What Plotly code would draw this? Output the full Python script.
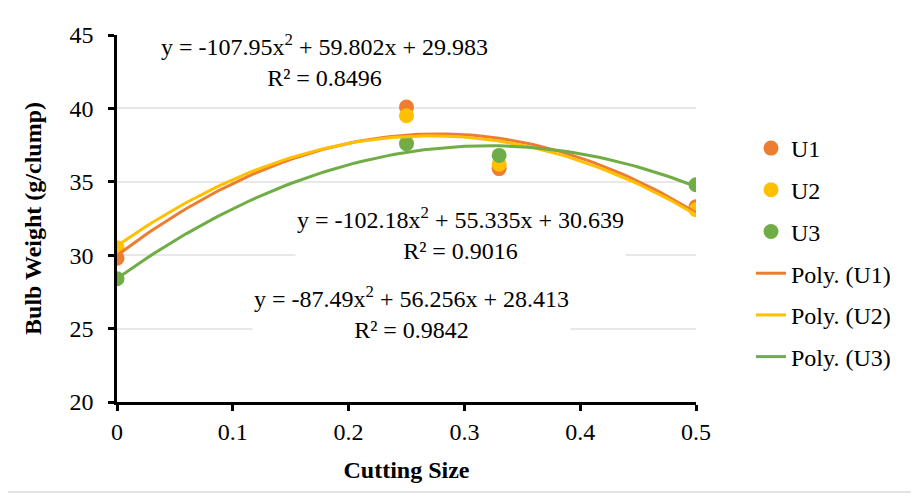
import numpy as np
import plotly.graph_objects as go

cutting_size = [0, 0.25, 0.33, 0.5]
u1 = [29.8, 40.1, 35.9, 33.3]
u2 = [30.5, 39.5, 36.2, 33.1]
u3 = [28.4, 37.6, 36.8, 34.8]

# printed trendline coefficients (a, b, c) for y = a x^2 + b x + c
coef_u1 = [-107.95, 59.802, 29.983]
coef_u2 = [-102.18, 55.335, 30.639]
coef_u3 = [-87.49, 56.256, 28.413]
r2 = [0.8496, 0.9016, 0.9842]

series_names = ["U1", "U2", "U3"]
colors = ["#ED7D31", "#FFC000", "#70AD47"]

FONT = "Liberation Serif, Times New Roman, serif"
FS = 24

fig = go.Figure()
for i, (name, vals) in enumerate(zip(series_names, [u1, u2, u3])):
    fig.add_trace(go.Scatter(
        x=cutting_size, y=vals, mode="markers", name=name,
        marker=dict(color=colors[i], size=15),
        legendgroup=f"g{i}",
    ))

xs = np.linspace(0, 0.5, 101)
for i, (name, c) in enumerate(zip(series_names, [coef_u1, coef_u2, coef_u3])):
    ys = np.polyval(c, xs)
    fig.add_trace(go.Scatter(
        x=xs, y=ys, mode="lines", name=f"Poly. ({name})",
        line=dict(color=colors[i], width=3),
        legendgroup=f"h{i}",
    ))

def eq_text(c, r):
    return (f"y = {c[0]:g}x<sup>2</sup> + {c[1]:g}x + {c[2]:g}<br>R² = {r:.4f}")

ann_pos = [(0.1796, 43.25), (0.297, 31.45), (0.2547, 26.1)]
for c, r, (ax, ay) in zip([coef_u1, coef_u2, coef_u3], r2, ann_pos):
    fig.add_annotation(
        x=ax, y=ay, xref="x", yref="y", text=eq_text(c, r), showarrow=False,
        font=dict(family=FONT, size=FS, color="#000000"), bgcolor="white",
        align="center",
    )

# outer chart border
fig.add_shape(type="rect", xref="paper", yref="paper",
              x0=-0.19, x1=1.3748, y0=-0.2452, y1=1.079,
              line=dict(color="#D9D9D9", width=1.5), fillcolor="rgba(0,0,0,0)",
              layer="below")

fig.update_layout(
    width=919, height=497,
    margin=dict(l=109, r=231, t=27, b=103),
    paper_bgcolor="white", plot_bgcolor="white",
    font=dict(family=FONT, size=FS, color="#000000"),
    showlegend=True,
    legend=dict(x=1.095, y=0.752, xanchor="left", yanchor="top",
                font=dict(family=FONT, size=FS), tracegroupgap=7.5,
                traceorder="grouped", bgcolor="rgba(0,0,0,0)"),
    xaxis=dict(
        range=[0, 0.5], tickvals=[0, 0.1, 0.2, 0.3, 0.4, 0.5],
        ticktext=["0", "0.1", "0.2", "0.3", "0.4", "0.5"],
        showline=True, linecolor="black", linewidth=2.5,
        ticks="outside", ticklen=6, tickwidth=2.5, tickcolor="black",
        showgrid=False, zeroline=False,
        tickfont=dict(family=FONT, size=FS),
        title=dict(text="<b>Cutting Size</b>", font=dict(family=FONT, size=FS), standoff=18),
    ),
    yaxis=dict(
        range=[20, 45], tickvals=[20, 25, 30, 35, 40, 45],
        showline=True, linecolor="black", linewidth=2.5,
        ticks="outside", ticklen=6, tickwidth=2.5, tickcolor="black",
        ticklabelstandoff=10,
        showgrid=True, gridcolor="#E8E8E8", gridwidth=1.5, zeroline=False,
        tickfont=dict(family=FONT, size=FS),
        title=dict(text="<b>Bulb Weight (g/clump)</b>", font=dict(family=FONT, size=FS), standoff=22),
    ),
)

fig.write_html("out.html")
